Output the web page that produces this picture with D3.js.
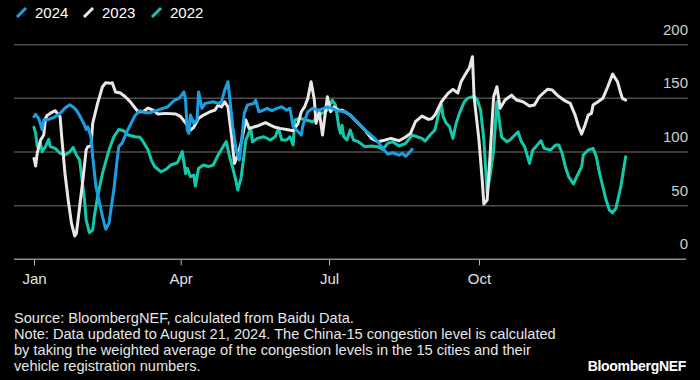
<!DOCTYPE html>
<html>
<head>
<meta charset="utf-8">
<script src="https://cdn.jsdelivr.net/npm/d3@7"></script>
<style>
  html, body { margin: 0; padding: 0; background: #000; }
  svg { display: block; }
  text { font-family: "Liberation Sans", Arial, Helvetica, sans-serif; }
</style>
</head>
<body>
<svg id="chart" width="700" height="380"></svg>
<script>
// ---- DATA (day of year, congestion level) ----
const seriesNames = ["2024", "2023", "2022"];
const yTicks = [0, 50, 100, 150, 200];
const xTickLabels = ["Jan", "Apr", "Jul", "Oct"];

const days2024 = [0,1,3,5,6,8,12,16,19,22,24,26,28,31,32,33,35,36,38,42,44,46,49,51,52,54,57,62,65,68,71,75,79,82,86,89,92,93,94,95,96,98,100,101,103,105,110,113,115,117,119,120,122,124,126,127,129,131,135,136,138,140,143,146,149,152,155,157,159,161,164,165,168,171,175,180,183,186,191,195,199,203,208,211,214,217,220,224,226,228,230,232];
const values2024 = [133,135,131,121,130,130,132,136,141,144,142,139,134,125,121,123.5,114,96,68,40,28,33.5,65,92.5,105,108,119,134,138.5,136.6,136.6,138.5,140.7,142,148,150,156,148,120.5,117.4,134.4,126.7,129.8,156,140.7,145.3,146.8,145.3,146.8,157.7,165.5,151.5,123.5,101.8,92.5,105,136,143.8,145.3,148.4,137.5,138.5,140.7,138.5,140.7,142.2,139,140.7,123.5,120.5,115.8,125,137.5,140.7,139,142,140.7,138.5,137.5,133,126.7,120.5,114,109.6,103.4,98,99.3,97,98.8,96,99,102.5];

const days2023 = [0,1,2,4,6,7,8,11,13,16,17,19,21,23,25,26,28,30,32,33,35,36,39,42,44,47,48,50,53,56,59,62,64,67,70,73,76,81,87,90,94,96,98,101,104,108,111,113,115,117,119,121,123,125,127,130,132,137,142,145,148,151,155,159,162,164,166,168,170,172,173,175,177,180,182,184,187,189,194,199,203,207,211,215,219,224,228,231,234,238,242,244,246,250,254,257,260,262,265,267,269,270,273,275,276,278,280,282,284,286,289,293,296,300,304,307,310,315,318,321,325,329,332,334,336,338,340,342,343,346,349,352,355,358,360,361,363];
const values2023 = [94,87,99,111,116,131,134,137,138.5,133,114,80,55,33.5,21.7,24,49,74,102,105,105.6,126.7,145.3,160.8,164.5,164,164.5,156,155,151.5,147,141,137.5,137.5,141,139,135.4,136,135.4,133,125,120.5,123,131.4,134.4,137.5,139,143.8,142,146.8,142,117.4,89.4,97,108,129.8,122,124.2,127.3,125,123,122,121,119.8,126.7,137.5,142,150,165.5,148.4,126.7,137.5,115.8,151.5,137.5,142,139,139,134.4,126.7,120.5,112.7,109.6,111,112.7,110.5,114,117.4,128.2,133.5,130.4,131,134.4,146.8,154.7,158.4,155,165.5,173.3,178,188.8,151.5,111,73.9,51.5,55.2,101.8,151.5,160.8,140.7,148.4,153,148.4,146.8,142.8,143.8,151.5,158.4,157.7,153,148.4,145.3,134.4,124.2,116.7,125,134.4,136,143.8,146.8,150,160.8,172.6,165.5,154.7,150,148.4];

const days2022 = [0,1,2,4,5,7,9,10,13,16,19,22,24,26,28,29,31,32,34,36,37,39,42,46,49,52,55,58,62,65,67,70,72,74,78,81,84,88,90,91,93,94,96,98,99,101,104,107,110,113,116,118,120,122,124,125,127,129,130,133,134,137,141,145,148,150,152,155,157,159,160,163,167,171,175,180,183,185,187,188,189,190,192,194,196,199,203,207,211,214,217,220,224,228,232,235,238,240,243,246,248,250,251,253,255,257,259,261,264,266,270,272,274,276,278,280,282,284,286,287,290,292,295,297,299,301,304,306,308,311,313,317,320,322,324,326,328,331,333,336,337,340,343,345,347,349,351,353,355,357,360,362,363];
const values2022 = [123,117.4,105,108,100.3,105,111.8,105,103.4,98.8,97.2,100.3,104.3,97.2,92.5,80,55.2,36.6,24.8,27.3,39.7,58.3,80,101.8,114.2,121,119.8,115.8,114.2,113.7,109.6,101.8,92.5,86.3,81.6,83.9,87.9,90,97,100.3,80,84.8,77,78.5,68.3,84.8,87.9,86.3,87.9,97.2,105,109.6,95.6,84.8,72.3,64.6,75.5,98.8,111.2,122,109.6,112.7,114.2,111.2,114.2,122,111.2,111.2,114.2,106.5,129.8,131.4,129.8,128.2,134.4,139,148.4,143.8,123.5,117.4,125,114.2,111.2,120.5,111.2,109.6,105,105.6,105,102.5,108,109.6,105.6,108,115.8,114.2,112.7,110.2,115.8,120.5,134.4,143.8,132.9,126.7,123.5,112.7,126.7,136,146.8,150,152,148.4,139,111.2,62,80,101.8,146.8,123.5,113.6,109.6,111.2,115.8,118.9,109.6,105,89.4,101.8,105,110.5,103.4,101.8,106.5,106.5,98.8,86.3,77,70.2,77,86.3,97.2,101.8,103.4,95.6,80,67.6,55.2,45.9,43.4,47.5,67.6,86.3,95.6];

const colors = { "2024": "#1a9fe0", "2023": "#e8e8e8", "2022": "#14c9a9" };

// ---- CHART ----
const svg = d3.select("#chart");
const base = new Date(2023, 0, 1);
const toDate = d => d3.timeDay.offset(base, d);

const x = d3.scaleTime()
  .domain([new Date(2023, 0, 1), new Date(2023, 11, 31)])
  .range([34, 627.3]);
const y = d3.scaleLinear().domain([0, 200]).range([259.3, 44.7]);

// gridlines
svg.append("g").selectAll("line")
  .data(yTicks.filter(v => v > 0))
  .join("line")
  .attr("x1", 14).attr("x2", 688)
  .attr("y1", d => y(d)).attr("y2", d => y(d))
  .attr("stroke", "#4d4d4d").attr("stroke-width", 1.5);

// y labels
svg.append("g").selectAll("text")
  .data(yTicks)
  .join("text")
  .attr("x", 688)
  .attr("y", d => y(d) - 10)
  .attr("text-anchor", "end")
  .attr("fill", "#cfcfcf")
  .attr("font-size", 15)
  .text(d => d);

// x axis
const xAxis = d3.axisBottom(x)
  .tickValues([0, 3, 6, 9].map(m => new Date(2023, m, 1)))
  .tickFormat((d, i) => xTickLabels[i])
  .tickSize(6)
  .tickPadding(8);
const gx = svg.append("g").attr("transform", `translate(0,${y(0)})`).call(xAxis);
gx.select(".domain").remove();
gx.selectAll(".tick line").attr("stroke", "#bbbbbb").attr("stroke-width", 1);
gx.selectAll(".tick text").attr("fill", "#e0e0e0").attr("font-size", 15)
  .attr("font-family", "'Liberation Sans', Arial, sans-serif");
svg.append("line")
  .attr("x1", 14).attr("x2", 686)
  .attr("y1", y(0)).attr("y2", y(0))
  .attr("stroke", "#8a8a8a").attr("stroke-width", 1.5);

// lines
const line = d3.line()
  .x(d => x(toDate(d[0])))
  .y(d => y(d[1]))
  .curve(d3.curveLinear);

const seriesData = {
  "2022": d3.zip(days2022, values2022),
  "2023": d3.zip(days2023, values2023),
  "2024": d3.zip(days2024, values2024)
};
["2022", "2023", "2024"].forEach(name => {
  svg.append("path")
    .datum(seriesData[name])
    .attr("d", line)
    .attr("fill", "none")
    .attr("stroke", colors[name])
    .attr("stroke-width", 3)
    .attr("stroke-linejoin", "round")
    .attr("stroke-linecap", "round");
});

// legend
const legendX = [17, 84, 152];
const lg = svg.append("g");
seriesNames.forEach((name, i) => {
  const gx0 = legendX[i];
  lg.append("line")
    .attr("x1", gx0).attr("y1", 17)
    .attr("x2", gx0 + 9).attr("y2", 8)
    .attr("stroke", colors[name]).attr("stroke-width", 3)
    .attr("stroke-linecap", "butt");
  lg.append("text")
    .attr("x", gx0 + 18).attr("y", 17.5)
    .attr("fill", "#ffffff")
    .attr("font-size", 15)
    .text(name);
});

// footer
const footLines = [
  "Source: BloombergNEF, calculated from Baidu Data.",
  "Note: Data updated to August 21, 2024. The China-15 congestion level is calculated",
  "by taking the weighted average of the congestion levels in the 15 cities and their",
  "vehicle registration numbers."
];
svg.append("g").selectAll("text")
  .data(footLines)
  .join("text")
  .attr("x", 14)
  .attr("y", (d, i) => 323 + i * 16)
  .attr("fill", "#e6e6e6")
  .attr("font-size", 14.6)
  .text(d => d);

svg.append("text")
  .attr("x", 686).attr("y", 371)
  .attr("text-anchor", "end")
  .attr("fill", "#ffffff")
  .attr("font-size", 14)
  .attr("font-weight", "bold")
  .attr("letter-spacing", -0.3)
  .text("BloombergNEF");
</script>
</body>
</html>
